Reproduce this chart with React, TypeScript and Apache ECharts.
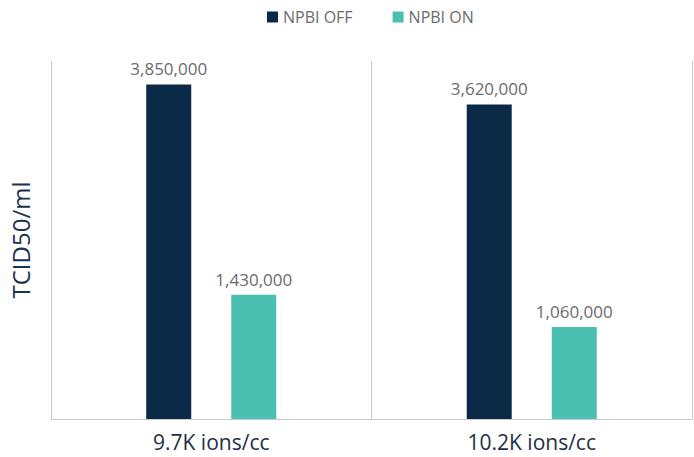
import React, { useEffect, useRef } from "react";
import * as echarts from "echarts";

const categories = ["9.7K ions/cc", "10.2K ions/cc"];
const npbiOff = [3850000, 3620000];
const npbiOn = [1430000, 1060000];
const seriesNames = ["NPBI OFF", "NPBI ON"];

const FONT = "'Open Sans', 'Noto Sans', sans-serif";

export default function App() {
  const ref = useRef<HTMLDivElement>(null);

  useEffect(() => {
    if (!ref.current) return;
    const chart = echarts.init(ref.current, undefined, { renderer: "svg" });
    const fmt = (v: number) => v.toLocaleString("en-US");
    const label = {
      show: true,
      position: "top" as const,
      distance: 7,
      color: "#6b6b6b",
      fontSize: 17,
      fontFamily: FONT,
      formatter: (p: any) => fmt(p.value),
    };
    chart.setOption({
      animation: false,
      backgroundColor: "#ffffff",
      textStyle: { fontFamily: FONT },
      legend: {
        top: 4,
        left: 262,
        itemWidth: 11,
        itemHeight: 11,
        itemGap: 40,
        icon: "rect",
        textStyle: { color: "#6b6b6b", fontSize: 16, fontFamily: FONT },
        data: seriesNames,
      },
      grid: { left: 44, right: 2, top: 61, bottom: 38 },
      xAxis: {
        type: "category",
        data: categories,
        axisLine: { show: true, lineStyle: { color: "#c8c8c8", width: 1 } },
        axisTick: { show: false },
        axisLabel: { color: "#1f2f45", fontSize: 21, fontFamily: FONT, margin: 12 },
        splitLine: { show: true, interval: 0, lineStyle: { color: "#c8c8c8", width: 1 } },
      },
      yAxis: {
        type: "value",
        min: 0,
        max: 4120000,
        name: "TCID50/ml",
        nameLocation: "middle",
        nameGap: 19,
        nameTextStyle: { color: "#1a3350", fontSize: 24, fontFamily: FONT },
        axisLine: { show: false },
        axisTick: { show: false },
        axisLabel: { show: false },
        splitLine: { show: false },
      },
      series: [
        {
          name: seriesNames[0],
          type: "bar",
          data: npbiOff,
          barWidth: 45,
          barGap: "89%",
          itemStyle: { color: "#0b2a47" },
          label,
        },
        {
          name: seriesNames[1],
          type: "bar",
          data: npbiOn,
          barWidth: 45,
          barGap: "89%",
          itemStyle: { color: "#4cc0b0" },
          label,
        },
      ],
    });
    return () => chart.dispose();
  }, []);

  return (
    <div
      ref={ref}
      style={{ position: "fixed", left: 0, top: 0, width: 694, height: 457 }}
    />
  );
}
